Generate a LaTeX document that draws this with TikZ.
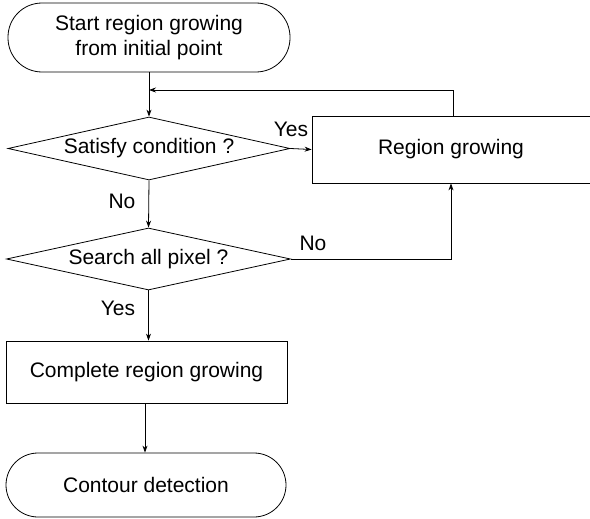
\documentclass[tikz,border=0pt]{standalone}
\usepackage{fontspec}
\setmainfont{Liberation Sans}
\usetikzlibrary{shapes.geometric,arrows.meta}
\begin{document}
\begin{tikzpicture}[x=1pt,y=-1pt,
  every node/.style={font=\fontsize{21}{25}\selectfont},
  term/.style={draw,rectangle,inner sep=0pt,align=center},
  proc/.style={draw,rectangle,inner sep=0pt,align=center},
  decide/.style={draw,diamond,inner sep=0pt,aspect=4.5},
  arr/.style={draw,line width=0.8pt,-{Stealth[length=7pt,width=5pt]}},
  lbl/.style={inner sep=0pt}]
\useasboundingbox (0,0) rectangle (590,519);
\tikzset{every path/.append style={line width=0.8pt}}
\node[term,rounded corners=34pt,minimum width=282pt,minimum height=69pt] (start) at (149,37.5) {Start region growing\\from initial point};
\node[decide,minimum width=282pt,minimum height=63pt] (sat) at (149,148.5) {Satisfy condition ?};
\node[proc,minimum width=278pt,minimum height=67pt] (reg) at (451,149.5) {Region growing};
\node[decide,minimum width=284pt,minimum height=62pt] (search) at (148.5,259) {Search all pixel ?};
\node[proc,minimum width=281pt,minimum height=62pt] (comp) at (146.5,372) {Complete region growing};
\node[term,rounded corners=32pt,minimum width=280pt,minimum height=64pt] (cont) at (146,485) {Contour detection};
\coordinate (j) at (149,90);
\draw[arr] (start.south) -- (sat.north);
\draw[arr] ([xshift=2pt]reg.north) |- (j);
\draw[arr] (sat.east) -- (reg.west);
\draw[arr] (sat.south) -- (search.north);
\draw[arr] (search.east) -| (reg.south);
\draw[arr] (search.south) -- (search.south |- comp.north);
\draw[arr] ([xshift=-1.5pt]comp.south) -- ([xshift=-1.5pt]comp.south |- cont.north);
\node[lbl] (yes1) at (291,129) {Yes};
\node[lbl] (no1) at (122,201) {No};
\node[lbl] (no2) at (313,243) {No};
\node[lbl] (yes2) at (118,308) {Yes};
\end{tikzpicture}
\end{document}
